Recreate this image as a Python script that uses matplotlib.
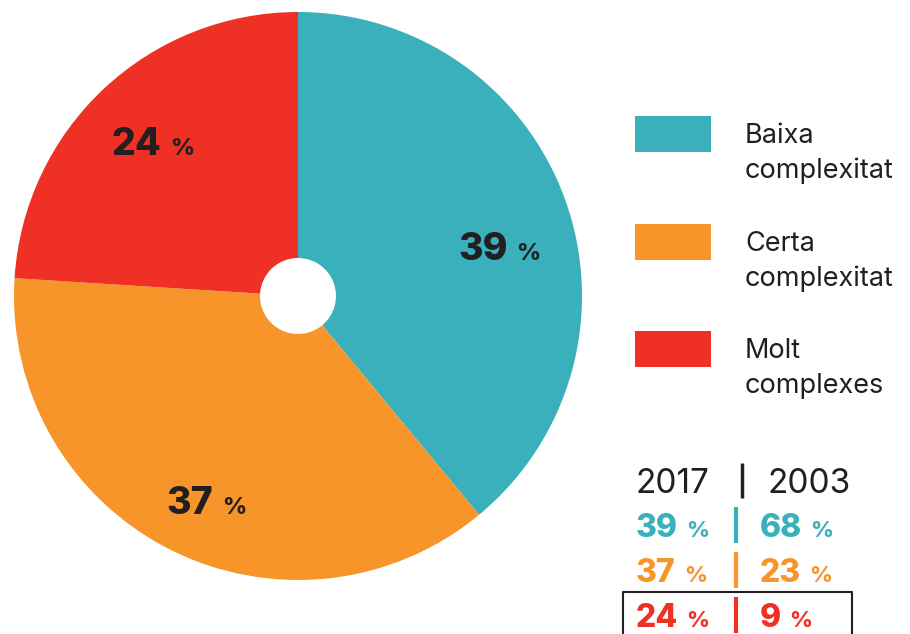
import numpy as np
import matplotlib
matplotlib.use("Agg")
import matplotlib.pyplot as plt
from matplotlib.patches import Rectangle

plt.rcParams['font.family'] = ['Inter', 'DejaVu Sans']

##########################################
# Data
categories = ["Baixa\ncomplexitat", "Certa\ncomplexitat", "Molt\ncomplexes"]
share_2017 = [39, 37, 24]
share_2003 = [68, 23, 9]
years = ["2017", "2003"]
colors = ["#39B0BC", "#F7952A", "#EE3124"]
DARK = "#231F20"

W, H = 910, 634

fig = plt.figure(figsize=(W / 100, H / 100), dpi=100)
ax = fig.add_axes([0, 0, 1, 1])

def Y(y):
    # convert top-down pixel position to data coords
    return H - y

##########################################
# Pie (donut with small hole)
R = 284
hole = 38
cx, cy = 298, Y(296)
wedges, _ = ax.pie(share_2017, colors=colors, startangle=90, counterclock=False,
                   radius=R, center=(cx, cy),
                   wedgeprops=dict(width=R - hole, linewidth=0))
ax.set_xlim(0, W)
ax.set_ylim(0, H)
ax.set_aspect('equal')
ax.axis('off')

renderer = fig.canvas.get_renderer()

def pct_text(x, y, value, size_num, size_pct, color, gap):
    t = ax.text(x, Y(y), str(value), fontsize=size_num, fontweight='heavy',
                color=color, ha='left', va='baseline')
    bb = t.get_window_extent(renderer=renderer)
    ax.text(bb.x1 + gap, Y(y), "%", fontsize=size_pct, fontweight='heavy',
            color=color, ha='left', va='baseline')

# labels inside the slices
label_pos = [(458, 260), (166, 514), (111, 155)]
for (lx, ly), v in zip(label_pos, share_2017):
    pct_text(lx, ly, v, 27, 17, DARK, 9)

##########################################
# Legend
box_top = [116, 224, 331]
for top, c, lab in zip(box_top, colors, categories):
    ax.add_patch(Rectangle((635, Y(top + 36)), 76, 36, color=c, lw=0))
    first, second = lab.split("\n")
    ax.text(745, Y(top + 27), first, fontsize=19.5, color=DARK, ha='left', va='baseline')
    ax.text(745, Y(top + 62), second, fontsize=19.5, color=DARK, ha='left', va='baseline')

##########################################
# Small table 2017 | 2003
ax.text(636, Y(493), years[0], fontsize=24, color=DARK, ha='left', va='baseline')
ax.text(767, Y(493), years[1], fontsize=24, color=DARK, ha='left', va='baseline')
ax.plot([742, 742], [Y(463), Y(498)], color=DARK, lw=2.5, solid_capstyle='butt')

row_base = [537, 582, 627]
for base, c, a, b in zip(row_base, colors, share_2017, share_2003):
    pct_text(636, base, a, 23, 16, c, 8)
    pct_text(760, base, b, 23, 16, c, 8)
    ax.plot([736, 736], [Y(base - 30), Y(base + 6)], color=c, lw=3, solid_capstyle='butt')

# box round the last row
ax.plot([623, 623, 852, 852], [Y(640), Y(592), Y(592), Y(640)], color=DARK, lw=1.5)

fig.savefig("out.png", dpi=100)
